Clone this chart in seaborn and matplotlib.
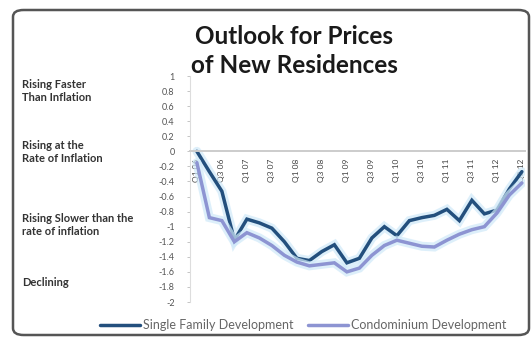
import matplotlib
matplotlib.use("Agg")
import matplotlib.pyplot as plt
import matplotlib.patheffects as pe
from matplotlib.patches import FancyBboxPatch
import numpy as np
import pandas as pd
import seaborn as sns

# Quarterly outlook index (0 = rising at the rate of inflation)
quarters = [
    "Q1 06", "Q2 06", "Q3 06", "Q4 06", "Q1 07", "Q2 07", "Q3 07", "Q4 07",
    "Q1 08", "Q2 08", "Q3 08", "Q4 08", "Q1 09", "Q2 09", "Q3 09", "Q4 09",
    "Q1 10", "Q2 10", "Q3 10", "Q4 10", "Q1 11", "Q2 11", "Q3 11", "Q4 11",
    "Q1 12", "Q2 12", "Q3 12",
]
single_family = [
    0.0, -0.27, -0.53, -1.18, -0.9, -0.95, -1.02, -1.2, -1.42, -1.45,
    -1.33, -1.24, -1.48, -1.42, -1.15, -1.0, -1.12, -0.92, -0.88, -0.85,
    -0.77, -0.92, -0.65, -0.83, -0.78, -0.5, -0.27,
]
condominium = [
    -0.15, -0.88, -0.92, -1.2, -1.08, -1.15, -1.25, -1.38, -1.47, -1.52,
    -1.5, -1.48, -1.6, -1.55, -1.38, -1.25, -1.18, -1.22, -1.26, -1.27,
    -1.18, -1.1, -1.04, -1.0, -0.82, -0.58, -0.42,
]
series_names = ["Single Family Development", "Condominium Development"]
y_ticks = [1, 0.8, 0.6, 0.4, 0.2, 0, -0.2, -0.4, -0.6, -0.8,
           -1, -1.2, -1.4, -1.6, -1.8, -2]
zones = ["Rising Faster\nThan Inflation", "Rising at the\nRate of Inflation",
         "Rising Slower than the\nrate of inflation", "Declining"]

df = pd.DataFrame({
    "idx": list(range(len(quarters))) * 2,
    "value": single_family + condominium,
    "series": [series_names[0]] * len(quarters) + [series_names[1]] * len(quarters),
})

sns.set_theme(style="white")
plt.rcParams["font.family"] = ["Lato", "DejaVu Sans"]

W, H = 532, 339
fig = plt.figure(figsize=(W / 100, H / 100), dpi=100)
fig.patch.set_facecolor("white")
ax = fig.add_axes([190 / W, 1 - 302 / H, (525 - 190) / W, (302 - 76) / H])

palette = {series_names[0]: "#234f7d", series_names[1]: "#8d94d2"}
sns.lineplot(data=df, x="idx", y="value", hue="series", palette=palette,
             sort=False, linewidth=2.5, ax=ax, legend=False)
for line in ax.get_lines():
    line.set_path_effects([pe.Stroke(linewidth=6.5, foreground="#cfe9f9", alpha=0.7),
                           pe.Normal()])
    line.set_solid_joinstyle("miter")

# Category axis crosses the value axis at zero
for s in ["top", "right"]:
    ax.spines[s].set_visible(False)
ax.spines["bottom"].set_position(("data", 0))
ax.spines["bottom"].set_color("#cccccc")
ax.spines["bottom"].set_linewidth(1.4)
ax.spines["left"].set_color("#dddddd")
ax.spines["left"].set_linewidth(0.8)

ax.set_ylim(-2, 1)
ax.set_xlim(-0.55, 26.25)
ax.set_yticks(y_ticks)
ax.set_yticklabels([f"{t:g}" for t in y_ticks], fontsize=6.5, color="#555555")
ax.set_xticks(range(0, len(quarters), 2))
ax.set_xticklabels(quarters[::2], rotation=90, fontsize=6, color="#444444")
ax.tick_params(axis="y", length=2, width=0.6, color="#bbbbbb", pad=9, left=True)
ax.tick_params(axis="x", length=0, pad=5)
ax.set_xlabel("")
ax.set_ylabel("")

# Title
fig.text(294 / W, 1 - 51 / H, "Outlook for Prices\nof New Residences", ha="center",
         va="center", fontsize=17.5, fontweight="bold", color="#1a1a1a",
         linespacing=1.3)

# Zone labels on the left
zone_y = [91, 152, 225, 283]
for label, yy in zip(zones, zone_y):
    fig.text(22 / W, 1 - yy / H, label, ha="left", va="center", fontsize=8,
             fontweight="bold", color="#333333", linespacing=1.15)

# Legend
handles = [plt.Line2D([], [], color=palette[n], linewidth=2.5) for n in series_names]
fig.legend(handles, series_names, loc="center", bbox_to_anchor=(303 / W, 1 - 325 / H),
           ncol=2, frameon=False, fontsize=9, handlelength=3.2, columnspacing=1.2,
           handletextpad=0.2, labelcolor="#666666")

# Rounded chart frame
frame = FancyBboxPatch((13 / W, 4 / H), (529 - 13) / W, (329 - 4) / H,
                       boxstyle="round,pad=0,rounding_size=0.02",
                       transform=fig.transFigure, fill=False,
                       edgecolor="#555555", linewidth=1.8)
fig.patches.append(frame)

fig.savefig("out.png", dpi=100)
